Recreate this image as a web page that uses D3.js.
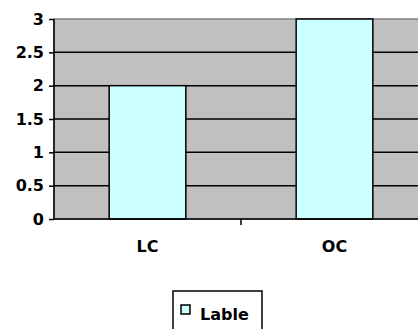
<!DOCTYPE html>
<html>
<head>
<meta charset="utf-8">
<script src="https://cdn.jsdelivr.net/npm/d3@7"></script>
<style>
  html, body { margin: 0; padding: 0; background: #fff; }
  svg { display: block; }
  text { font-family: "DejaVu Sans", sans-serif; font-weight: bold; fill: #000; }
</style>
</head>
<body>
<svg id="chart" width="418" height="329"></svg>
<script>
const categories = ["LC", "OC"];
const values = [2, 3];
const yTicks = [0, 0.5, 1, 1.5, 2, 2.5, 3];
const seriesName = "Lable";

const svg = d3.select("#chart");
const plotLeft = 54, plotTop = 19, plotBottom = 219, plotRight = 428;

const x = d3.scaleBand().domain(categories).range([plotLeft, plotRight])
  .paddingInner(0.59).paddingOuter(0.295);
const y = d3.scaleLinear().domain([0, 3]).range([plotBottom, plotTop]);

// plot area
svg.append("rect")
  .attr("x", plotLeft).attr("y", plotTop)
  .attr("width", plotRight - plotLeft).attr("height", plotBottom - plotTop)
  .attr("fill", "#c0c0c0")
  .attr("stroke", "#808080").attr("stroke-width", 1.5);

// gridlines
svg.append("g").selectAll("line").data(yTicks.filter(d => d > 0 && d < 3)).join("line")
  .attr("x1", plotLeft).attr("x2", plotRight)
  .attr("y1", d => y(d)).attr("y2", d => y(d))
  .attr("stroke", "#000").attr("stroke-width", 1.5);

// bars
svg.append("g").selectAll("rect").data(values).join("rect")
  .attr("x", (d, i) => x(categories[i]))
  .attr("width", x.bandwidth())
  .attr("y", d => y(d))
  .attr("height", d => y(0) - y(d))
  .attr("fill", "#ccffff")
  .attr("stroke", "#000").attr("stroke-width", 1.5);

// y axis
const yAxis = svg.append("g").attr("transform", `translate(${plotLeft},0)`)
  .call(d3.axisLeft(y).tickValues(yTicks).tickSize(5).tickPadding(5).tickFormat(d3.format("")));
yAxis.select(".domain").attr("stroke-width", 1.5).attr("d", `M0,${plotTop}V${plotBottom}`);
yAxis.selectAll(".tick line").attr("stroke-width", 1.5);
yAxis.attr("font-family", null).attr("font-size", null);
yAxis.selectAll("text").style("font-size", "16px");

// x axis
const xAxis = svg.append("g").attr("transform", `translate(0,${plotBottom})`);
xAxis.append("line").attr("x1", plotLeft).attr("x2", plotRight).attr("stroke", "#000").attr("stroke-width", 1.5);
const step = x.step();
const boundaries = d3.range(1, categories.length + 1).map(i => plotLeft + step * i);
xAxis.selectAll("line.tk").data(boundaries).join("line").attr("class", "tk")
  .attr("x1", d => d).attr("x2", d => d).attr("y1", 0).attr("y2", 6)
  .attr("stroke", "#000").attr("stroke-width", 1.5);
xAxis.selectAll("text").data(categories).join("text")
  .attr("x", d => x(d) + x.bandwidth() / 2).attr("y", 33)
  .attr("text-anchor", "middle").style("font-size", "16px")
  .text(d => d);

// legend
const lg = svg.append("g").attr("transform", "translate(173,291)");
lg.append("rect").attr("width", 89).attr("height", 40)
  .attr("fill", "#fff").attr("stroke", "#000").attr("stroke-width", 1.5);
lg.append("rect").attr("x", 8).attr("y", 14).attr("width", 9).attr("height", 9)
  .attr("fill", "#ccffff").attr("stroke", "#000").attr("stroke-width", 1.5);
lg.append("text").attr("x", 27).attr("y", 29).style("font-size", "16px").text(seriesName);
</script>
</body>
</html>
